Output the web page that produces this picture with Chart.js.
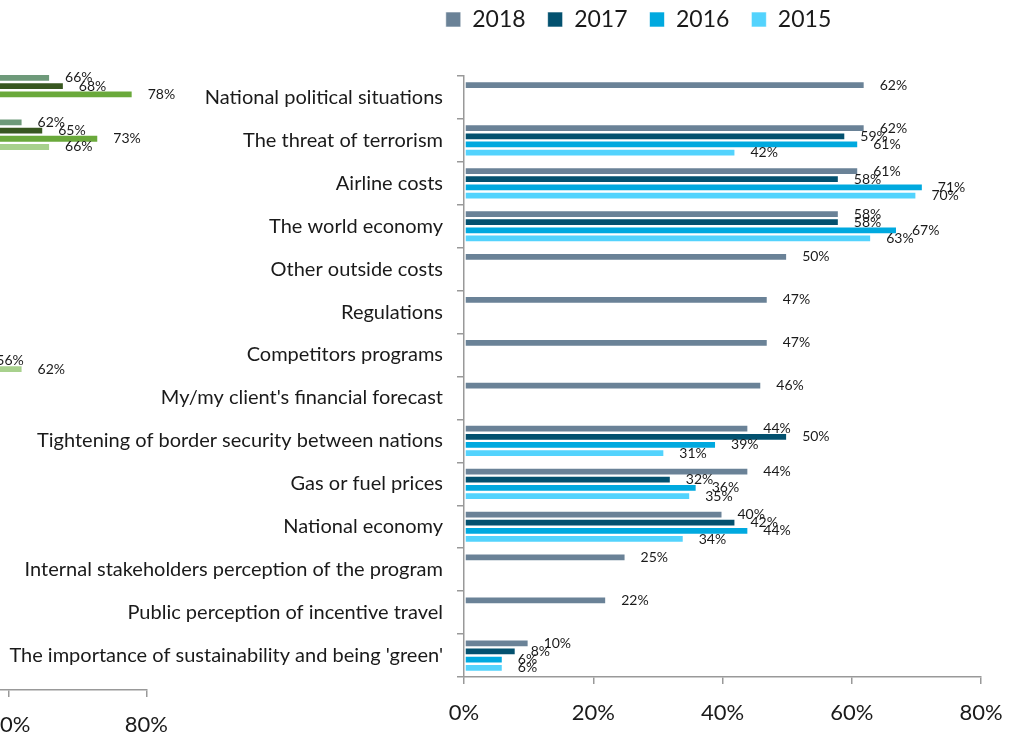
<!DOCTYPE html>
<html>
<head>
<meta charset="utf-8">
<script src="https://cdn.jsdelivr.net/npm/chart.js@4.4.0/dist/chart.umd.min.js"></script>
<style>
  html, body { margin: 0; padding: 0; background: #fff; overflow: hidden; }
  body { width: 1020px; height: 736px; position: relative; }
  #left-box { position: absolute; left: -437px; top: 0; }
  #main-box { position: absolute; left: 0; top: 0; }
</style>
</head>
<body>
<div id="left-box"><canvas id="left-chart" width="620" height="736"></canvas></div>
<div id="main-box"><canvas id="main-chart" width="1020" height="736"></canvas></div>
<script>
const categories = [
  "National political situations",
  "The threat of terrorism",
  "Airline costs",
  "The world economy",
  "Other outside costs",
  "Regulations",
  "Competitors programs",
  "My/my client's financial forecast",
  "Tightening of border security between nations",
  "Gas or fuel prices",
  "National economy",
  "Internal stakeholders perception of the program",
  "Public perception of incentive travel",
  "The importance of sustainability and being 'green'",
];
const years = ["2018", "2017", "2016", "2015"];
const v2018 = [62, 62, 61, 58, 50, 47, 47, 46, 44, 44, 40, 25, 22, 10];
const v2017 = [null, 59, 58, 58, null, null, null, null, 50, 32, 42, null, null, 8];
const v2016 = [null, 61, 71, 67, null, null, null, null, 39, 36, 44, null, null, 6];
const v2015 = [null, 42, 70, 63, null, null, null, null, 31, 35, 34, null, null, 6];
const xTicks = [0, 20, 40, 60, 80];

// partly visible chart at the far left (only its right end shows)
const left2018 = [66, 62, null, null, null, null, null, null, null, null, null, null, null, null];
const left2017 = [68, 65, null, null, null, null, null, null, null, null, null, null, null, null];
const left2016 = [78, 73, null, null, null, null, 56, null, null, null, null, null, null, null];
const left2015 = [null, 66, null, null, null, null, 62, null, null, null, null, null, null, null];

const blues = ["#6a8297", "#03516f", "#00a9df", "#53d3fd"];
const greens = ["#6e9a7a", "#385720", "#6aa93b", "#a8d18d"];

const FONT = "Lato";
const TEXT = "#1a1a1a";
const AXIS = "#999999";

const valueLabels = {
  id: "valueLabels",
  afterDatasetsDraw(chart) {
    const ctx = chart.ctx;
    ctx.save();
    ctx.font = `14px ${FONT}`;
    ctx.fillStyle = TEXT;
    ctx.textBaseline = "middle";
    ctx.textAlign = "left";
    chart.data.datasets.forEach((ds, i) => {
      chart.getDatasetMeta(i).data.forEach((bar, j) => {
        if (ds.data[j] == null) return;
        ctx.fillText(ds.data[j] + "%", bar.x + 15, bar.y);
      });
    });
    ctx.restore();
  },
};

// the legend sits off-centre, above the bars
const moveLegend = {
  id: "moveLegend",
  afterLayout(chart) {
    const lg = chart.legend;
    if (!lg) return;
    lg.left += 148;
    lg.right += 148;
    lg.top -= 35;
    lg.bottom -= 35;
  },
};

function makeDatasets(series, colors) {
  return series.map((data, i) => ({
    label: years[i],
    data: data,
    backgroundColor: colors[i],
    borderColor: "rgba(255,255,255,0.6)",
    borderWidth: 1,
    borderSkipped: false,
  }));
}

function xScale(height, pad) {
  return {
    min: xTicks[0],
    max: xTicks[xTicks.length - 1],
    afterBuildTicks: (s) => {
      s.ticks = xTicks.map((v) => ({ value: v }));
    },
    afterFit: (s) => {
      s.height = height;
    },
    border: { color: AXIS, width: 1.5 },
    grid: { drawOnChartArea: false, tickLength: 7, color: AXIS, lineWidth: 1.5 },
    ticks: {
      callback: (v) => v + "%",
      color: TEXT,
      font: { family: FONT, size: 22 },
      padding: pad,
      maxRotation: 0,
    },
  };
}

Chart.defaults.animation = false;

new Chart(document.getElementById("main-chart"), {
  type: "bar",
  data: {
    labels: categories,
    datasets: makeDatasets([v2018, v2017, v2016, v2015], blues),
  },
  options: {
    responsive: false,
    indexAxis: "y",
    categoryPercentage: 0.76,
    barPercentage: 0.95,
    layout: { padding: { top: 21, right: 39, left: 0, bottom: 0 } },
    plugins: {
      legend: {
        position: "top",
        labels: {
          boxWidth: 15,
          boxHeight: 15,
          padding: 22,
          color: TEXT,
          font: { family: FONT, size: 23 },
        },
      },
      tooltip: { enabled: false },
    },
    scales: {
      x: xScale(59, 16),
      y: {
        afterFit: (s) => {
          s.width = 464;
        },
        border: { color: AXIS, width: 1.5 },
        grid: { drawOnChartArea: false, tickLength: 7, color: AXIS, lineWidth: 1.5 },
        ticks: {
          color: TEXT,
          font: { family: FONT, size: 20 },
          padding: 14,
        },
      },
    },
  },
  plugins: [valueLabels, moveLegend],
});

new Chart(document.getElementById("left-chart"), {
  type: "bar",
  data: {
    labels: categories,
    datasets: makeDatasets([left2018, left2017, left2016, left2015], greens),
  },
  options: {
    responsive: false,
    indexAxis: "y",
    categoryPercentage: 0.74,
    barPercentage: 0.95,
    layout: { padding: { top: 68, right: 31, left: 33, bottom: 0 } },
    plugins: { legend: { display: false }, tooltip: { enabled: false } },
    scales: {
      x: xScale(46, 15),
      y: { display: false },
    },
  },
  plugins: [valueLabels],
});
</script>
</body>
</html>
